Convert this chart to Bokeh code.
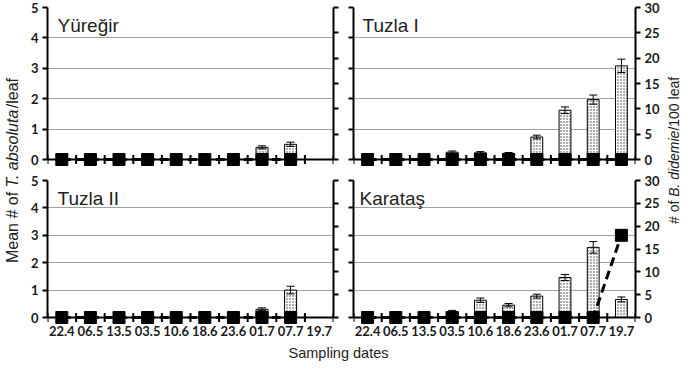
import math
from bokeh.plotting import figure
from bokeh.models import (Range1d, LinearAxis, FixedTicker, ColumnDataSource, Whisker,
                          TeeHead, Span, Label, FactorRange)
from bokeh.layouts import row, column
from bokeh.embed import file_html
from bokeh.resources import INLINE

nan = float("nan")

# ---------------- data ----------------
dates = ["22.4", "06.5", "13.5", "03.5", "10.6", "18.6", "23.6", "01.7", "07.7", "19.7"]
left_ticks = [0, 1, 2, 3, 4, 5]
right_ticks = [0, 5, 10, 15, 20, 25, 30]

yuregir_ta = [0, 0, 0, 0, 0, 0, 0, 0.40, 0.50, nan]
yuregir_err = [0, 0, 0, 0, 0, 0, 0, 0.05, 0.07, nan]
yuregir_bd = [0, 0, 0, 0, 0, 0, 0, 0, 0, nan]

tuzla1_ta = [0, 0, 0, 0.24, 0.22, 0.20, 0.74, 1.62, 1.97, 3.08]
tuzla1_err = [0, 0, 0, 0.04, 0.04, 0.03, 0.06, 0.11, 0.15, 0.22]
tuzla1_bd = [0, 0, 0, 0, 0, 0, 0, 0, 0, 0]

tuzla2_ta = [0, 0, 0, 0, 0, 0, 0, 0.30, 1.00, nan]
tuzla2_err = [0, 0, 0, 0, 0, 0, 0, 0.05, 0.14, nan]
tuzla2_bd = [0, 0, 0, 0, 0, 0, 0, 0, 0, nan]

karatas_ta = [0, 0, 0, 0.22, 0.63, 0.45, 0.78, 1.46, 2.56, 0.66]
karatas_err = [0, 0, 0, 0.04, 0.08, 0.06, 0.07, 0.11, 0.21, 0.09]
karatas_bd = [0, 0, 0, 0, 0, 0, 0, 0, 0, 18.0]

TICK_FONT = "Lato"
TEXT_FONT = "Liberation Sans"
TICK_SIZE = "13px"
PAD = 8  # px below zero line inside frame


def style_axis(ax, ticks, bounds, show_labels):
    ax.ticker = FixedTicker(ticks=ticks)
    ax.bounds = bounds
    ax.axis_line_color = "black"
    ax.axis_line_width = 2
    ax.major_tick_line_color = "black"
    ax.major_tick_line_width = 2
    ax.major_tick_out = 5
    ax.major_tick_in = 0
    ax.minor_tick_line_color = None
    ax.major_label_text_font = TICK_FONT
    ax.major_label_text_font_style = "bold"
    if show_labels:
        ax.major_label_text_color = "#1a1a1a"
        ax.major_label_text_font_size = TICK_SIZE
        ax.major_label_standoff = 4
    else:
        ax.major_label_text_color = None
        ax.major_label_text_font_size = "1px"
        ax.major_label_standoff = 0


def panel(name, ta, err, bd, width, frame_h, mbl, mbr, mbt, mbb,
          left_labels, right_labels, bottom_labels, title_dx):
    y0 = -5.0 * PAD / frame_h
    height = mbt + frame_h + PAD + mbb
    p = figure(width=width, height=height, x_range=FactorRange(*dates),
               y_range=Range1d(y0, 5), output_backend="svg", toolbar_location=None,
               min_border_left=mbl, min_border_right=mbr, min_border_top=mbt,
               min_border_bottom=mbb, outline_line_color=None)
    p.extra_y_ranges = {"bd": Range1d(y0 * 6, 30)}

    style_axis(p.yaxis[0], left_ticks, (0, 5), left_labels)
    rax = LinearAxis(y_range_name="bd")
    style_axis(rax, right_ticks, (0, 30), right_labels)
    p.add_layout(rax, "right")

    xa = p.xaxis[0]
    if bottom_labels:
        xa.axis_line_color = None
        xa.major_tick_line_color = None
        xa.major_tick_out = 0
        xa.major_tick_in = 0
        xa.major_label_standoff = 0
        xa.major_label_text_font = TICK_FONT
        xa.major_label_text_font_style = "bold"
        xa.major_label_text_font_size = TICK_SIZE
        xa.major_label_text_color = "#1a1a1a"
    else:
        xa.visible = False

    p.xgrid.visible = False
    p.ygrid.ticker = FixedTicker(ticks=[1, 2, 3, 4, 5])
    p.ygrid.grid_line_color = "#a0a0a0"
    p.ygrid.grid_line_width = 1

    # bars
    p.vbar(x=dates, top=ta, bottom=0, width=0.42, fill_color="white",
           line_color="black", line_width=1, hatch_pattern="dot", hatch_scale=3,
           hatch_color="#333333", hatch_weight=1)

    # error bars
    xs, up, lo = [], [], []
    for d, v, e in zip(dates, ta, err):
        if not math.isnan(v) and e > 0:
            xs.append(d)
            up.append(v + e)
            lo.append(v - e)
    wsrc = ColumnDataSource(dict(x=xs, upper=up, lower=lo))
    w = Whisker(base="x", upper="upper", lower="lower", source=wsrc, dimension="height",
                line_color="black", line_width=1,
                upper_head=TeeHead(size=8, line_color="black", line_width=1),
                lower_head=TeeHead(size=8, line_color="black", line_width=1),
                level="annotation")
    p.add_layout(w)

    # B. didemie line + squares
    p.line(x=dates, y=bd, y_range_name="bd", line_color="black", line_width=3,
           line_dash="9 5")
    p.scatter(x=dates, y=bd, y_range_name="bd", marker="square", size=12,
              fill_color="black", line_color="black")

    # zero axis line and category-boundary ticks
    p.add_layout(Span(location=0, dimension="width", line_color="black", line_width=2))
    bx = [(d, -0.5) for d in dates] + [(dates[-1], 0.5)]
    p.scatter(x=bx, y=[0] * len(bx), marker="dash", angle=math.pi / 2, size=9,
              line_color="black", line_width=2)

    p.add_layout(Label(x=title_dx, y=frame_h + PAD - 18, x_units="screen", y_units="screen",
                       text=name, text_font=TEXT_FONT, text_font_size="19px",
                       text_baseline="middle", text_color="#222222"))
    return p


def blank(w, h):
    f = figure(width=w, height=h, x_range=Range1d(0, 1), y_range=Range1d(0, 1),
               output_backend="svg", toolbar_location=None, min_border=0,
               outline_line_color=None, x_axis_location=None, y_axis_location=None)
    f.grid.visible = False
    return f


# widths: left label 27 | TL 316 | TR 320 | right label 22  -> 685
tl = panel("Yüreğir", yuregir_ta, yuregir_err, yuregir_bd, 316, 152, 20, 10, 7, 4,
           True, False, False, 10)
tr = panel("Tuzla I", tuzla1_ta, tuzla1_err, tuzla1_bd, 320, 152, 10, 28, 7, 4,
           False, True, False, 9)
bl = panel("Tuzla II", tuzla2_ta, tuzla2_err, tuzla2_bd, 316, 137, 20, 10, 9, 16,
           True, False, True, 10)
br = panel("Karataş", karatas_ta, karatas_err, karatas_bd, 320, 137, 10, 28, 9, 16,
           False, True, True, 6)

TOTAL_H = 368
XL_H = TOTAL_H - (7 + 152 + PAD + 4) - (9 + 137 + PAD + 16)

# left label
lf = blank(27, TOTAL_H)
pieces_l = [("Mean # of", "normal", 0.0), ("T. absoluta", "italic", 75.6), ("/leaf", "normal", 154.8)]
start_l = (TOTAL_H - 170) - 92.5
for txt, sty, off in pieces_l:
    lf.add_layout(Label(x=12, y=start_l + off, x_units="screen", y_units="screen", text=txt,
                        angle=math.pi / 2, text_align="left", text_baseline="middle",
                        text_font=TEXT_FONT, text_font_style=sty,
                        text_font_size="16px", text_color="#222222"))

# right label
rf = blank(22, TOTAL_H)
pieces_r = [("# of", "normal", 0.0), ("B. didemie", "italic", 27.2), ("/100 leaf", "normal", 93.4)]
start_r = (TOTAL_H - 150) - 73.5
for txt, sty, off in pieces_r:
    rf.add_layout(Label(x=10, y=start_r + off, x_units="screen", y_units="screen", text=txt,
                        angle=math.pi / 2, text_align="left", text_baseline="middle",
                        text_font=TEXT_FONT, text_font_style=sty,
                        text_font_size="14px", text_color="#222222"))

# x label
xf = blank(636, XL_H)
xf.add_layout(Label(x=311, y=XL_H - 11, x_units="screen", y_units="screen", text="Sampling dates",
                    text_align="center", text_baseline="middle", text_font=TEXT_FONT,
                    text_font_size="14.5px", text_color="#222222"))

layout = row(lf, column(row(tl, tr), row(bl, br), xf), rf)

open("out.html", "w").write(file_html(layout, INLINE))
